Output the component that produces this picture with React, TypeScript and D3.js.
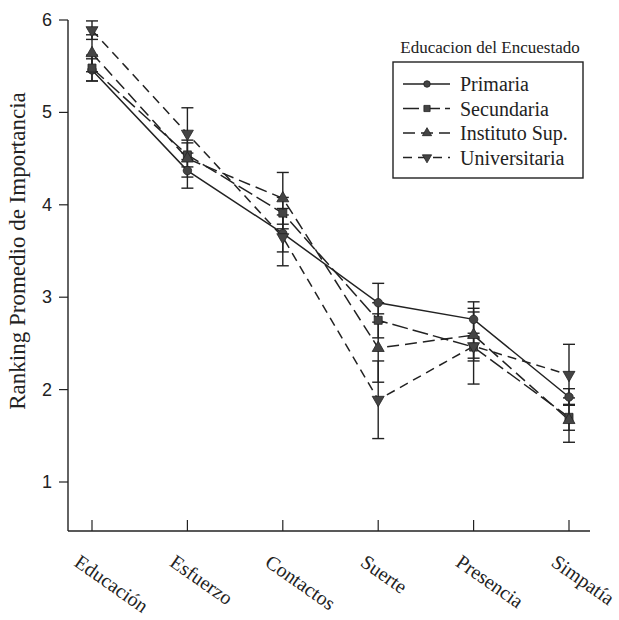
import React from "react";
import * as d3 from "d3";

const categories = ["Educación", "Esfuerzo", "Contactos", "Suerte", "Presencia", "Simpatía"];
const seriesNames = ["Primaria", "Secundaria", "Instituto Sup.", "Universitaria"];

const primaria = [5.46, 4.37, 3.69, 2.94, 2.76, 1.92];
const secundaria = [5.48, 4.54, 3.91, 2.75, 2.46, 1.7];
const instituto = [5.64, 4.5, 4.07, 2.45, 2.59, 1.67];
const universitaria = [5.89, 4.77, 3.65, 1.89, 2.47, 2.16];

const primariaErr = [0.12, 0.19, 0.2, 0.21, 0.19, 0.09];
const secundariaErr = [0.14, 0.13, 0.17, 0.19, 0.15, 0.14];
const institutoErr = [0.2, 0.2, 0.28, 0.37, 0.25, 0.24];
const universitariaErr = [0.1, 0.28, 0.31, 0.42, 0.41, 0.33];

const yTicks = [1, 2, 3, 4, 5, 6];

const series = [
  { name: seriesNames[0], values: primaria, err: primariaErr, dash: "none", symbol: d3.symbolCircle, size: 56, rot: 0 },
  { name: seriesNames[1], values: secundaria, err: secundariaErr, dash: "16,5", symbol: d3.symbolSquare, size: 64, rot: 0 },
  { name: seriesNames[2], values: instituto, err: institutoErr, dash: "12,6", symbol: d3.symbolTriangle, size: 62, rot: 0 },
  { name: seriesNames[3], values: universitaria, err: universitariaErr, dash: "9,6", symbol: d3.symbolTriangle, size: 62, rot: 180 },
];

const ink = "#222";
const markFill = "#444";

export default function App() {
  const x = d3.scalePoint<string>().domain(categories).range([92, 569]);
  const y = d3.scaleLinear().domain([1, 6]).range([482, 20]);
  const axisLeft = 68;
  const axisBottom = y(0.47);
  const axisTop = y(6);

  const line = d3
    .line<number>()
    .x((_, i) => x(categories[i]) as number)
    .y((d) => y(d));

  return (
    <svg width={619} height={620} style={{ position: "absolute", left: 0, top: 0, background: "#fff" }}>
      {/* y axis */}
      <line x1={axisLeft} x2={axisLeft} y1={axisTop} y2={axisBottom} stroke={ink} strokeWidth={1.4} />
      {yTicks.map((t) => (
        <g key={t}>
          <line x1={axisLeft - 9} x2={axisLeft} y1={y(t)} y2={y(t)} stroke={ink} strokeWidth={1.2} />
          <text x={52} y={y(t) + 6} textAnchor="end" fontFamily="Liberation Sans, Arial, sans-serif" fontSize={18} fill={ink}>
            {t}
          </text>
        </g>
      ))}
      <text
        transform={`translate(25, 251) rotate(-90)`}
        textAnchor="middle"
        fontFamily="Liberation Serif, Times New Roman, serif"
        fontSize={23}
        fill={ink}
      >
        Ranking Promedio de Importancia
      </text>

      {/* x axis */}
      <line x1={axisLeft} x2={590} y1={axisBottom} y2={axisBottom} stroke={ink} strokeWidth={1.4} />
      {categories.map((c) => (
        <g key={c}>
          <line x1={x(c)} x2={x(c)} y1={axisBottom} y2={axisBottom - 11} stroke={ink} strokeWidth={1.2} />
          <text
            transform={`translate(${(x(c) as number) - 19}, 565) rotate(35)`}
            fontFamily="Liberation Serif, Times New Roman, serif"
            fontSize={20}
            fill={ink}
          >
            {c}
          </text>
        </g>
      ))}

      {/* error bars */}
      {series.map((s) => (
        <g key={s.name + "-err"}>
          {s.values.map((v, i) => {
            const cx = x(categories[i]) as number;
            const lo = y(v - s.err[i]);
            const hi = y(v + s.err[i]);
            return (
              <g key={i} stroke={ink} strokeWidth={1.4}>
                <line x1={cx} x2={cx} y1={lo} y2={hi} />
                <line x1={cx - 6} x2={cx + 6} y1={lo} y2={lo} />
                <line x1={cx - 6} x2={cx + 6} y1={hi} y2={hi} />
              </g>
            );
          })}
        </g>
      ))}

      {/* lines */}
      {series.map((s) => (
        <path key={s.name} d={line(s.values) || ""} fill="none" stroke={ink} strokeWidth={1.5} strokeDasharray={s.dash} />
      ))}

      {/* markers */}
      {series.map((s) => (
        <g key={s.name + "-pts"}>
          {s.values.map((v, i) => (
            <path
              key={i}
              d={d3.symbol().type(s.symbol).size(s.size)() || ""}
              transform={`translate(${x(categories[i])}, ${y(v)}) rotate(${s.rot})`}
              fill={markFill}
              stroke={ink}
              strokeWidth={0.8}
            />
          ))}
        </g>
      ))}

      {/* legend */}
      <text x={490} y={53} textAnchor="middle" fontFamily="Liberation Serif, Times New Roman, serif" fontSize={17} fill={ink}>
        Educacion del Encuestado
      </text>
      <rect x={393} y={62} width={190} height={116} fill="#fff" stroke={ink} strokeWidth={1.4} />
      {series.map((s, i) => {
        const ly = 84 + i * 24.5;
        return (
          <g key={s.name + "-leg"}>
            <line x1={403} x2={450} y1={ly} y2={ly} stroke={ink} strokeWidth={1.5} strokeDasharray={s.dash} />
            <path
              d={d3.symbol().type(s.symbol).size(s.size * 0.6)() || ""}
              transform={`translate(427, ${ly}) rotate(${s.rot})`}
              fill={markFill}
              stroke={ink}
              strokeWidth={0.8}
            />
            <text x={460} y={ly + 7} fontFamily="Liberation Serif, Times New Roman, serif" fontSize={20} fill={ink}>
              {s.name}
            </text>
          </g>
        );
      })}
    </svg>
  );
}
